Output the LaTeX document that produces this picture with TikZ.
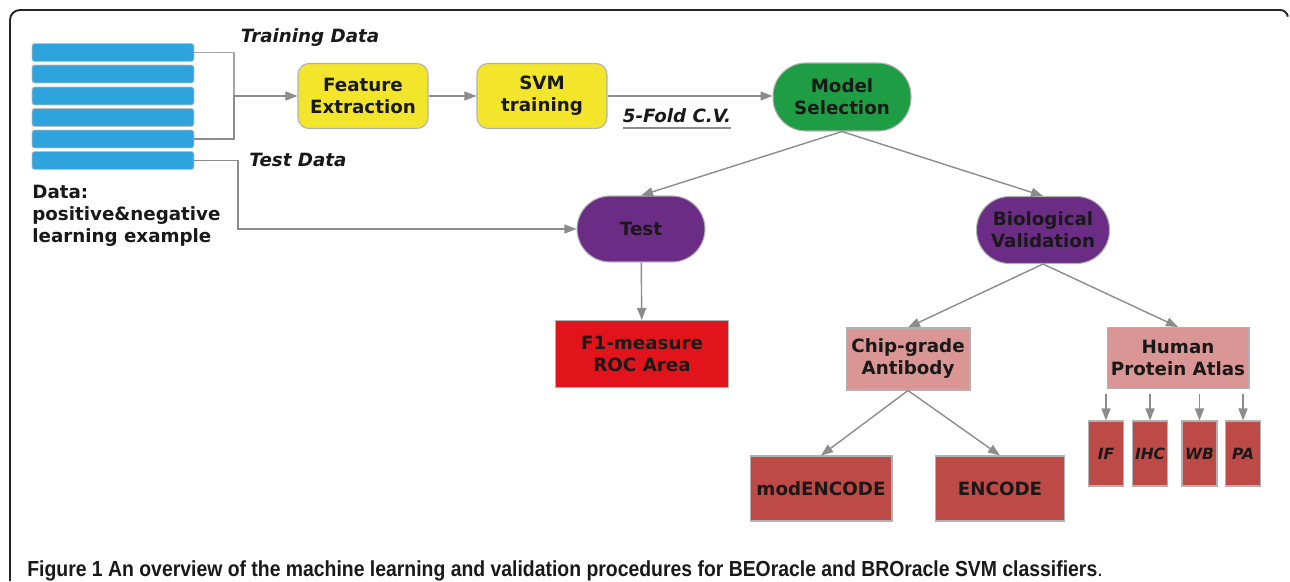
\documentclass[tikz,border=0pt]{standalone}
\usepackage{fontspec}
\setmainfont{DejaVu Sans}[ItalicFont={DejaVu Sans Oblique}, BoldFont={DejaVu Sans Bold}, BoldItalicFont={DejaVu Sans Bold Oblique}]
\newfontfamily\capfont{Liberation Sans}[FakeStretch=0.89]
\usepackage{xcolor}
\usepackage{tikz}
\usetikzlibrary{arrows.meta, positioning}

\definecolor{barblue}{HTML}{2FA3DC}
\definecolor{featyellow}{HTML}{F2E52B}
\definecolor{selgreen}{HTML}{1F9D45}
\definecolor{valpurple}{HTML}{6A2C85}
\definecolor{scorered}{HTML}{E2141B}
\definecolor{abpink}{HTML}{D99694}
\definecolor{dbred}{HTML}{BE4A47}

\begin{document}
\begin{tikzpicture}[
    x=0.02cm, y=-0.02cm,
    every node/.style={font=\fontsize{10.4}{12.5}\selectfont\bfseries, text=black!90},
    box/.style={draw=black!30, line width=0.6pt, minimum width=2.6cm, minimum height=1.3cm, align=center, inner sep=1pt},
    ybox/.style={box, fill=featyellow, rounded corners=0.22cm},
    pill/.style={box, rounded corners=0.66cm},
    dbox/.style={box, fill=dbred},
    tbox/.style={dbox, minimum width=0.7cm, font=\fontsize{8.8}{10}\selectfont\bfseries\itshape},
    bar/.style={draw=black!25, fill=barblue, rounded corners=1.5pt, minimum width=3.24cm, minimum height=0.36cm, inner sep=0pt},
    lbl/.style={font=\fontsize{10.4}{12.5}\selectfont\bfseries\itshape},
    wire/.style={draw=black!35, line width=0.8pt},
    arr/.style={wire, -{Triangle[length=2.4mm, width=1.8mm]}, black!45},
]

\useasboundingbox (0,0) rectangle (1290,581);

% outer frame
\draw[black!85, line width=1.1pt] (10,581) -- (10,20) arc[start angle=180, end angle=90, radius=0.2cm]
    -- (1280,10) arc[start angle=90, end angle=10, radius=0.16cm];

% data set
\node[bar] (bar1) at (113,52.5) {};
\node[bar] (bar2) at (113,74) {};
\node[bar] (bar3) at (113,96) {};
\node[bar] (bar4) at (113,117.5) {};
\node[bar] (bar5) at (113,139) {};
\node[bar] (bar6) at (113,160.5) {};
\node[anchor=north west, align=left, inner sep=0pt] (datalbl) at (32,185) {Data:\\positive\&negative\\learning example};

\node[lbl] (trainlbl) at (310,38) {Training Data};
\node[lbl] (testlbl) at (298,160) {Test Data};

% training branch
\node[ybox] (fe) at (363,96) {Feature\\Extraction};
\node[ybox] (svm) at (542,96) {SVM\\training};
\node[pill, fill=selgreen, minimum width=2.76cm, minimum height=1.36cm] (msel) at (842,97) {Model\\Selection};
\node[lbl, inner xsep=0pt] (cv) at (677,116) {5-Fold C.V.};
\draw[black!45, line width=0.8pt] ([yshift=-3pt]cv.base west) -- ([yshift=-3pt]cv.base east);

\coordinate (join) at (234,96);
\draw[wire] (bar1.east) -| (join);
\draw[arr] (bar5.east) -| (join) -- (fe.west);

\draw[arr] (fe) -- (svm);
\draw[arr] (svm) -- (svm -| msel.west);

% test and validation
\node[pill, fill=valpurple, minimum width=2.56cm, minimum height=1.32cm] (test) at (641,229) {Test};
\node[pill, fill=valpurple, minimum width=2.66cm, minimum height=1.34cm] (bio) at (1043,230) {Biological\\Validation};
\node[box, fill=scorered, minimum width=3.46cm, minimum height=1.34cm] (f1) at (642,354) {F1-measure\\ROC Area};
\node[box, fill=abpink, minimum width=2.48cm, minimum height=1.24cm] (chip) at (908,359) {Chip-grade\\Antibody};
\node[box, fill=abpink, minimum width=2.84cm, minimum height=1.22cm] (hpa) at (1178,358) {Human\\Protein Atlas};

\coordinate (tdturn) at (238,160.5);
\draw[arr] (bar6.east) -- (tdturn) |- (test.west);

\draw[arr] (msel.south) -- (test.north);
\draw[arr] (msel.south) -- (bio.north);
\draw[arr] (test) -- (f1);
\draw[arr] (bio.south) -- (chip.north);
\draw[arr] (bio.south) -- (hpa.north);

% databases and assays
\node[dbox, minimum width=2.84cm, minimum height=1.3cm] (modenc) at (821,488.5) {modENCODE};
\node[dbox, minimum width=2.58cm, minimum height=1.3cm] (enc) at (1000,488.5) {ENCODE};
\node[tbox] (ifb) at (1106,453.5) {IF};
\node[tbox] (ihcb) at (1150,453.5) {IHC};
\node[tbox] (wbb) at (1199.5,453.5) {WB};
\node[tbox] (pab) at (1243,453.5) {PA};

\draw[arr] (chip.south) -- (modenc.north);
\draw[arr] (chip.south) -- (enc.north);
\draw[arr, shorten <=0.1cm] (hpa.south -| ifb) -- (ifb);
\draw[arr, shorten <=0.1cm] (hpa.south -| ihcb) -- (ihcb);
\draw[arr, shorten <=0.1cm] (hpa.south -| wbb) -- (wbb);
\draw[arr, shorten <=0.1cm] (hpa.south -| pab) -- (pab);

\node[anchor=base west, inner sep=0pt, font=\capfont\fontsize{12.4}{14}\selectfont\bfseries] (caption) at (27,576)
    {Figure 1 An overview of the machine learning and validation procedures for BEOracle and BROracle SVM classifiers\textmd{.}};

\end{tikzpicture}
\end{document}
